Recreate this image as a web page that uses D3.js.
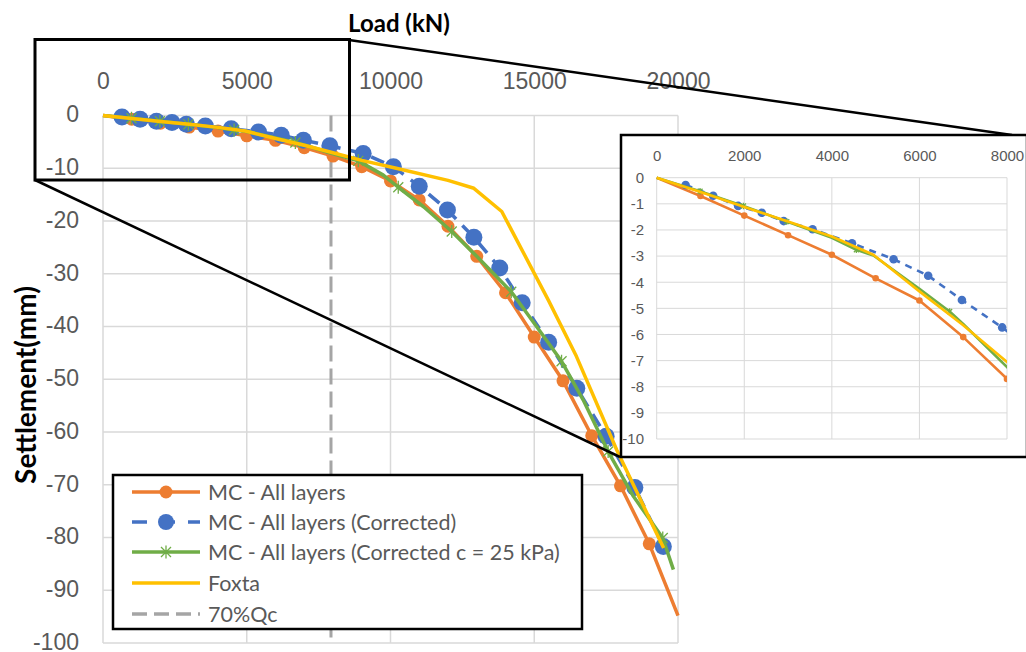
<!DOCTYPE html>
<html><head><meta charset="utf-8">
<script src="https://cdn.jsdelivr.net/npm/d3@7"></script>
<style>
html,body{margin:0;padding:0;background:#fff;}
svg{display:block;font-family:Lato,'Open Sans',sans-serif;}
</style></head>
<body>
<svg id="chart" width="1026" height="652"></svg>
<script>
// ---- data ----
const xTicks = [0, 5000, 10000, 15000, 20000];
const yTicks = [0, -10, -20, -30, -40, -50, -60, -70, -80, -90, -100];
const insetXTicks = [0, 2000, 4000, 6000, 8000];
const insetYTicks = [0, -1, -2, -3, -4, -5, -6, -7, -8, -9, -10];

const orangeLoad = [0,1000,2000,3000,4000,5000,6000,7000,8000,9000,10000,11000,12000,13000,14000,15000,16000,17000,18000,19000,20000];
const orangeSettle = [0,-0.7,-1.45,-2.2,-2.95,-3.85,-4.7,-6.1,-7.7,-9.7,-12.4,-16.0,-21.0,-26.7,-33.6,-42.0,-50.3,-60.7,-70.2,-81.2,-94.8];

const blueLoad = [660,1290,1860,2400,2900,3560,4460,5410,6200,6970,7890,9050,10100,11000,11980,12900,13800,14580,15500,16480,17500,18500,19490];
const blueSettle = [-0.28,-0.69,-1.08,-1.34,-1.66,-1.97,-2.51,-3.12,-3.75,-4.68,-5.73,-7.2,-9.7,-13.4,-17.9,-23.1,-28.9,-35.5,-43.0,-51.7,-60.8,-70.5,-81.7];

const greenLoad = [0,990,1980,2970,4000,4560,4950,6000,6690,7000,8000,8880,9750,10270,11150,12130,13000,14200,15200,15950,16700,17570,18450,19470,19840];
const greenSettle = [0,-0.52,-1.08,-1.68,-2.3,-2.76,-2.98,-4.25,-5.12,-5.6,-7.25,-8.6,-11.3,-13.6,-17.3,-22.0,-26.7,-33.4,-40.9,-46.6,-53.9,-63.7,-72.2,-80.1,-86.1];
const greenMarkerLoad = [990,1980,2970,4560,6690,8880,10270,12130,14200,15950,17570,19470];
const greenMarkerSettle = [-0.52,-1.08,-1.68,-2.76,-5.12,-8.6,-13.6,-22.0,-33.4,-46.6,-63.7,-80.1];

const foxtaLoad = [0,1000,2000,3000,4000,4950,6000,7000,8000,9000,10200,12000,12900,13870,15490,16470,17870,19140,19500];
const foxtaSettle = [0,-0.55,-1.12,-1.68,-2.25,-2.95,-4.35,-5.65,-7.05,-8.5,-10.0,-12.3,-13.8,-18.2,-35.0,-45.7,-63.4,-77.9,-82.0];

const qcLoad = 7930; // 70%Qc
const legendLabels = ["MC - All layers","MC - All layers (Corrected)","MC - All layers (Corrected c = 25 kPa)","Foxta","70%Qc"];

const C = {orange:"#ED7D31", blue:"#4472C4", green:"#70AD47", yellow:"#FFC000", gray:"#A5A5A5", text:"#595959", grid:"#D9D9D9"};

const svg = d3.select("#chart");
const zip = (a,b) => a.map((v,i)=>[v,b[i]]);
const fmt = d => String(d);

function starPath(s){ // asterisk: x plus vertical
  return `M${-s},${-s}L${s},${s}M${-s},${s}L${s},${-s}M0,${-s*1.3}L0,${s*1.3}`;
}

function drawPanel(g, x, y, sz){
  const line = d3.line().x(d=>x(d[0])).y(d=>y(d[1]));
  const oData = zip(orangeLoad, orangeSettle);
  g.append("path").attr("d", line(oData)).attr("fill","none").attr("stroke",C.orange).attr("stroke-width",sz.lw).attr("stroke-linejoin","round");
  g.selectAll(null).data(oData.filter((d,i)=>i>0 && i<oData.length-1)).enter().append("circle")
    .attr("cx",d=>x(d[0])).attr("cy",d=>y(d[1])).attr("r",sz.ro).attr("fill",C.orange);
  const bData = zip(blueLoad, blueSettle);
  g.append("path").attr("d", line(bData)).attr("fill","none").attr("stroke",C.blue).attr("stroke-width",sz.lw).attr("stroke-dasharray",sz.dash);
  g.selectAll(null).data(bData).enter().append("circle")
    .attr("cx",d=>x(d[0])).attr("cy",d=>y(d[1])).attr("r",sz.rb).attr("fill",C.blue);
  g.append("path").attr("d", line(zip(greenLoad, greenSettle))).attr("fill","none").attr("stroke",C.green).attr("stroke-width",sz.lw).attr("stroke-linejoin","round");
  g.selectAll(null).data(zip(greenMarkerLoad, greenMarkerSettle)).enter().append("path")
    .attr("transform",d=>`translate(${x(d[0])},${y(d[1])})`).attr("d",starPath(sz.rs))
    .attr("stroke",C.green).attr("stroke-width",1.3).attr("fill","none");
  g.append("path").attr("d", line(zip(foxtaLoad, foxtaSettle))).attr("fill","none").attr("stroke",C.yellow).attr("stroke-width",sz.lw).attr("stroke-linejoin","round");
}

// ---- main chart ----
const x = d3.scaleLinear().domain([0,20000]).range([103,678]);
const y = d3.scaleLinear().domain([0,-100]).range([115.5,643]);

const grid = svg.append("g");
grid.selectAll(null).data(xTicks).enter().append("line")
  .attr("x1",d=>x(d)).attr("x2",d=>x(d)).attr("y1",y(0)).attr("y2",y(-100)).attr("stroke",C.grid).attr("stroke-width",1.5);
grid.selectAll(null).data(yTicks).enter().append("line")
  .attr("y1",d=>y(d)).attr("y2",d=>y(d)).attr("x1",x(0)).attr("x2",x(20000)).attr("stroke",C.grid).attr("stroke-width",1.5);

const xAxis = svg.append("g").attr("transform",`translate(0,${y(0)-27})`)
  .call(d3.axisTop(x).tickValues(xTicks).tickSize(0).tickPadding(0).tickFormat(fmt));
xAxis.select(".domain").remove();
xAxis.selectAll("text").attr("fill",C.text).attr("font-size",23).attr("dy","0");

const yAxis = svg.append("g").attr("transform",`translate(79,-1)`)
  .call(d3.axisLeft(y).tickValues(yTicks).tickSize(0).tickPadding(0).tickFormat(fmt));
yAxis.select(".domain").remove();
yAxis.selectAll("text").attr("fill",C.text).attr("font-size",23);

svg.append("line").attr("x1",x(qcLoad)).attr("x2",x(qcLoad)).attr("y1",y(0)).attr("y2",y(-100))
  .attr("stroke",C.gray).attr("stroke-width",3).attr("stroke-dasharray","16,7");

drawPanel(svg.append("g"), x, y, {lw:3.5, ro:6.5, rb:8.5, rs:5, dash:"14,9"});

// titles
svg.append("text").attr("x",399).attr("y",32).attr("text-anchor","middle").attr("font-weight","bold").attr("font-size",24).attr("fill","#000").text("Load (kN)");
svg.append("text").attr("transform","translate(36,385) rotate(-90)").attr("text-anchor","middle").attr("font-weight","bold").attr("font-size",28).attr("fill","#000").text("Settlement(mm)");

// zoom rectangle and connectors
svg.append("rect").attr("x",35).attr("y",39.5).attr("width",314.5).attr("height",140.5).attr("fill","none").attr("stroke","#000").attr("stroke-width",3);
svg.append("line").attr("x1",349).attr("y1",40).attr("x2",1012).attr("y2",135).attr("stroke","#000").attr("stroke-width",2.5);
svg.append("line").attr("x1",35).attr("y1",180).attr("x2",620).attr("y2",457).attr("stroke","#000").attr("stroke-width",2.5);

// ---- inset ----
const inset = svg.append("g");
inset.append("rect").attr("x",621).attr("y",135).attr("width",406).attr("height",322).attr("fill","#fff").attr("stroke","#000").attr("stroke-width",2.5);
const xi = d3.scaleLinear().domain([0,8000]).range([656.7,1007]);
const yi = d3.scaleLinear().domain([0,-10]).range([177.7,439]);
inset.selectAll(null).data(insetXTicks).enter().append("line")
  .attr("x1",d=>xi(d)).attr("x2",d=>xi(d)).attr("y1",yi(0)).attr("y2",yi(-10)).attr("stroke",C.grid).attr("stroke-width",1);
inset.selectAll(null).data(insetYTicks).enter().append("line")
  .attr("y1",d=>yi(d)).attr("y2",d=>yi(d)).attr("x1",xi(0)).attr("x2",xi(8000)).attr("stroke",C.grid).attr("stroke-width",1);
const xiAxis = inset.append("g").attr("transform",`translate(0,${yi(0)-17})`)
  .call(d3.axisTop(xi).tickValues(insetXTicks).tickSize(0).tickPadding(0).tickFormat(fmt));
xiAxis.select(".domain").remove();
xiAxis.selectAll("text").attr("fill",C.text).attr("font-size",15);
const yiAxis = inset.append("g").attr("transform",`translate(644,0)`)
  .call(d3.axisLeft(yi).tickValues(insetYTicks).tickSize(0).tickPadding(0).tickFormat(fmt));
yiAxis.select(".domain").remove();
yiAxis.selectAll("text").attr("fill",C.text).attr("font-size",15);

svg.append("clipPath").attr("id","insetClip").append("rect")
  .attr("x",xi(0)-6).attr("y",yi(0)-6).attr("width",xi(8000)-xi(0)+6).attr("height",yi(-10)-yi(0)+6);
drawPanel(inset.append("g").attr("clip-path","url(#insetClip)"), xi, yi, {lw:2.6, ro:3.3, rb:4.3, rs:2.5, dash:"7,6"});

// ---- legend ----
const lg = svg.append("g");
lg.append("rect").attr("x",113).attr("y",475).attr("width",469).attr("height",154).attr("fill","#fff").attr("stroke","#000").attr("stroke-width",2.5);
const ly = [492, 522, 552, 583, 614];
const lx1 = 132, lx2 = 200, lxm = 166;
lg.append("line").attr("x1",lx1).attr("x2",lx2).attr("y1",ly[0]).attr("y2",ly[0]).attr("stroke",C.orange).attr("stroke-width",3.5);
lg.append("circle").attr("cx",lxm).attr("cy",ly[0]).attr("r",6.5).attr("fill",C.orange);
lg.append("line").attr("x1",lx1).attr("x2",lx2).attr("y1",ly[1]).attr("y2",ly[1]).attr("stroke",C.blue).attr("stroke-width",3.5).attr("stroke-dasharray","15,13");
lg.append("circle").attr("cx",lxm).attr("cy",ly[1]).attr("r",8).attr("fill",C.blue);
lg.append("line").attr("x1",lx1).attr("x2",lx2).attr("y1",ly[2]).attr("y2",ly[2]).attr("stroke",C.green).attr("stroke-width",3.5);
lg.append("path").attr("transform",`translate(${lxm},${ly[2]})`).attr("d",starPath(5)).attr("stroke",C.green).attr("stroke-width",1.3).attr("fill","none");
lg.append("line").attr("x1",lx1).attr("x2",lx2).attr("y1",ly[3]).attr("y2",ly[3]).attr("stroke",C.yellow).attr("stroke-width",3.5);
lg.append("line").attr("x1",lx1).attr("x2",lx2).attr("y1",ly[4]).attr("y2",ly[4]).attr("stroke",C.gray).attr("stroke-width",3.5).attr("stroke-dasharray","15,7");
lg.selectAll(null).data(legendLabels).enter().append("text")
  .attr("x",208).attr("y",(d,i)=>ly[i]).attr("dy","0.35em").attr("font-size",21.5).attr("fill",C.text).text(d=>d);
</script>
</body></html>
